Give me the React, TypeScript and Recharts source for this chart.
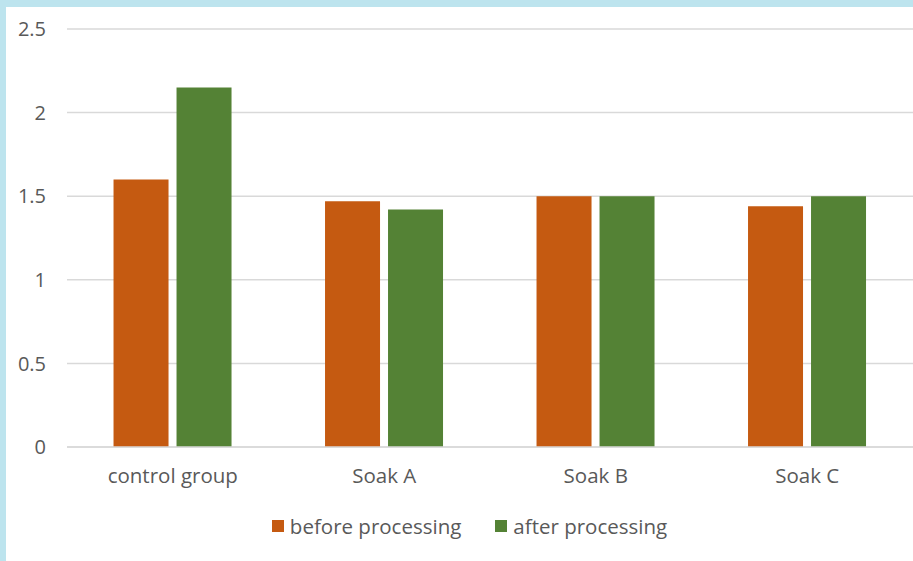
import React from 'react';
import { BarChart, Bar, XAxis, YAxis, CartesianGrid } from 'recharts';

const categories = ['control group', 'Soak A', 'Soak B', 'Soak C'];
const beforeProcessing = [1.6, 1.47, 1.5, 1.44];
const afterProcessing = [2.15, 1.42, 1.5, 1.5];
const yTicks = [0, 0.5, 1, 1.5, 2, 2.5];
const seriesNames = ['before processing', 'after processing'];
const seriesColors = ['#c55a11', '#548235'];

const data = categories.map((name, i) => ({
  name,
  before: beforeProcessing[i],
  after: afterProcessing[i],
}));

const FONT = '"Open Sans", Lato, sans-serif';
const TEXT = '#595959';

export default function App() {
  return (
    <div style={{ position: 'absolute', left: 0, top: 0, width: 913, height: 561, background: '#bde4ee' }}>
      <div style={{ position: 'absolute', left: 6, top: 7, width: 907, height: 554, background: '#fff' }}>
        <BarChart
          width={907}
          height={554}
          data={data}
          margin={{ top: 22, right: 0, bottom: 0, left: 0 }}
          barCategoryGap="22%"
          barGap={8}
        >
          <CartesianGrid vertical={false} stroke="#d9d9d9" strokeWidth={1.5} />
          <XAxis
            dataKey="name"
            height={114}
            tickSize={0}
            tickMargin={21}
            axisLine={{ stroke: '#d9d9d9', strokeWidth: 1.5 }}
            tick={{ fill: TEXT, fontSize: 20.5, fontFamily: FONT }}
          />
          <YAxis
            width={61}
            domain={[0, 2.5]}
            ticks={yTicks}
            tickSize={0}
            tickMargin={21}
            axisLine={false}
            tick={{ fill: TEXT, fontSize: 20, fontFamily: FONT }}
          />
          <Bar dataKey="before" name={seriesNames[0]} fill={seriesColors[0]} isAnimationActive={false} />
          <Bar dataKey="after" name={seriesNames[1]} fill={seriesColors[1]} isAnimationActive={false} />
        </BarChart>
        <div
          style={{
            position: 'absolute',
            left: 10,
            top: 505,
            width: 907,
            display: 'flex',
            justifyContent: 'center',
            gap: 34,
            fontFamily: FONT,
            fontSize: 20.5,
            color: TEXT,
          }}
        >
          {seriesNames.map((n, i) => (
            <div key={n} style={{ display: 'flex', alignItems: 'center' }}>
              <span style={{ width: 12, height: 12, background: seriesColors[i], display: 'inline-block', marginRight: 6 }} />
              {n}
            </div>
          ))}
        </div>
      </div>
    </div>
  );
}
